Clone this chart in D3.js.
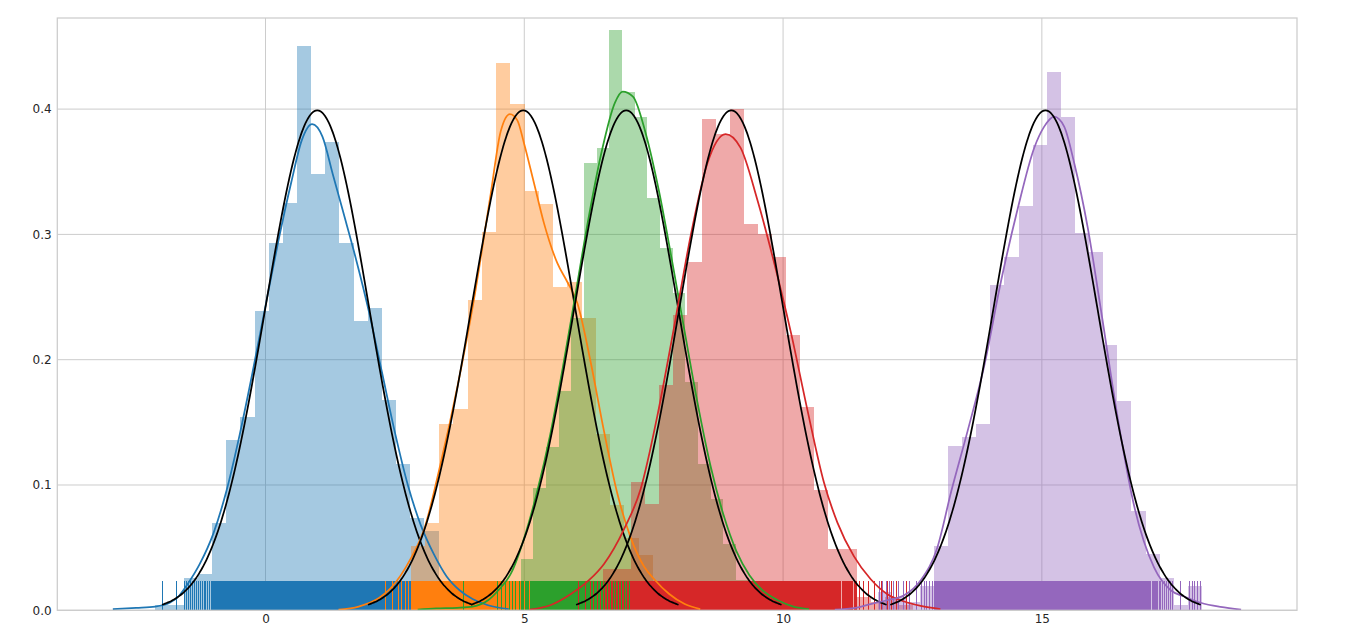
<!DOCTYPE html>
<html><head><meta charset="utf-8">
<script src="https://cdn.jsdelivr.net/npm/d3@7"></script>
<style>
body{margin:0;background:#fff}
svg text{font-family:"DejaVu Sans",sans-serif}
</style>
</head><body>
<svg id="chart" width="1345" height="636"></svg>
<script>
// ---------------- data ----------------
const seriesNames = ["blue", "orange", "green", "red", "purple"];
const seriesColors = ["#1f77b4", "#ff7f0e", "#2ca02c", "#d62728", "#9467bd"];
const sampleSize = 1000;

// histogram densities (density per bin), first bin edge and bin width
const blueDensity = [0.004,0.004,0.026,0.029,0.070,0.136,0.154,0.239,0.293,0.325,0.450,0.348,0.374,0.293,0.231,0.241,0.168,0.117,0.074,0.063,0.007,0.004];
const orangeDensity = [0.007,0.015,0.051,0.070,0.149,0.161,0.248,0.302,0.437,0.404,0.335,0.324,0.258,0.262,0.233,0.141,0.084,0.058,0.044,0.015,0.007];
const greenDensity = [0.004,0,0,0.012,0.016,0.041,0.098,0.130,0.175,0.233,0.357,0.369,0.463,0.414,0.394,0.329,0.289,0.253,0.182,0.117,0.089,0.053,0.024,0.008];
const redDensity = [0.007,0.015,0.033,0.033,0.102,0.085,0.180,0.236,0.278,0.392,0.380,0.400,0.308,0.300,0.282,0.220,0.162,0.096,0.049,0.049,0.011,0.007,0.011,0.004];
const purpleDensity = [0.015,0.011,0.007,0.019,0.051,0.131,0.138,0.149,0.260,0.282,0.323,0.371,0.430,0.394,0.301,0.286,0.212,0.167,0.079,0.045,0.026,0.004,0.019];
const binStarts = [-2.126, 2.254, 3.706, 5.971, 11.825];
const binWidths = [0.2735, 0.2753, 0.2449, 0.2726, 0.2726];

// kernel density estimates: [x, density]
const blueKde = [[-2.95,0.001],[-2.5,0.002],[-2.13,0.003],[-1.85,0.006],[-1.68,0.011],[-1.52,0.020],[-1.27,0.037],[-1.01,0.061],[-0.75,0.096],[-0.5,0.14],[-0.25,0.19],[0.0,0.243],[0.25,0.295],[0.5,0.342],[0.7,0.375],[0.9,0.388],[1.1,0.378],[1.3,0.348],[1.5,0.318],[1.75,0.28],[2.0,0.238],[2.25,0.19],[2.5,0.142],[2.75,0.1],[3.0,0.068],[3.25,0.045],[3.5,0.027],[3.75,0.016],[4.0,0.009],[4.3,0.004],[4.7,0.001]];
const orangeKde = [[1.41,0.0005],[1.8,0.003],[2.2,0.01],[2.416,0.0175],[2.803,0.041],[3.06,0.064],[3.383,0.117],[3.706,0.178],[4.027,0.248],[4.35,0.332],[4.543,0.382],[4.723,0.396],[4.866,0.391],[4.993,0.373],[5.187,0.341],[5.38,0.309],[5.639,0.277],[5.832,0.262],[6.026,0.245],[6.283,0.198],[6.54,0.143],[6.799,0.093],[7.056,0.058],[7.313,0.035],[7.506,0.025],[7.8,0.013],[8.1,0.005],[8.4,0.001]];
const greenKde = [[2.94,0.0005],[3.3,0.0015],[3.7,0.002],[4.0,0.003],[4.3,0.008],[4.5,0.016],[4.75,0.03],[5.0,0.058],[5.25,0.095],[5.5,0.14],[5.75,0.195],[6.0,0.255],[6.25,0.315],[6.5,0.367],[6.75,0.405],[6.9,0.414],[7.1,0.41],[7.35,0.38],[7.6,0.335],[7.85,0.28],[8.1,0.222],[8.35,0.165],[8.6,0.115],[8.85,0.076],[9.1,0.047],[9.35,0.028],[9.6,0.016],[9.9,0.008],[10.2,0.003],[10.5,0.001]];
const redKde = [[5.1,0.0005],[5.5,0.004],[5.9,0.013],[6.25,0.024],[6.54,0.037],[6.93,0.065],[7.25,0.097],[7.57,0.155],[7.89,0.225],[8.22,0.300],[8.54,0.357],[8.89,0.380],[9.18,0.369],[9.5,0.328],[9.83,0.277],[10.15,0.222],[10.47,0.16],[10.79,0.102],[11.05,0.07],[11.37,0.043],[11.69,0.025],[12.01,0.013],[12.34,0.007],[12.66,0.0035],[13.04,0.001]];
const purpleKde = [[11.0,0.0005],[11.4,0.002],[11.69,0.005],[12.01,0.008],[12.34,0.012],[12.66,0.024],[12.98,0.05],[13.25,0.095],[13.565,0.143],[13.886,0.195],[14.208,0.262],[14.531,0.32],[14.852,0.369],[15.045,0.386],[15.239,0.394],[15.432,0.386],[15.625,0.357],[15.884,0.306],[16.141,0.24],[16.464,0.154],[16.785,0.083],[17.17,0.034],[17.49,0.016],[17.75,0.011],[18.07,0.006],[18.45,0.0027],[18.85,0.0006]];

// fitted normal curves (black): mean, standard deviation, drawn over mean +/- 3 sd
const fitMeans = [1.0, 4.98, 6.97, 9.0, 15.07];
const fitStds = [1, 1, 1, 1, 1];
const fitSpanSd = 3;

// axis ticks
const xTicks = [0, 5, 10, 15];
const yTicks = [0.0, 0.1, 0.2, 0.3, 0.4];
const xDomain = [-4.023, 19.93];
const yDomain = [0, 0.4727];

// ---------------- drawing ----------------
const densities = [blueDensity, orangeDensity, greenDensity, redDensity, purpleDensity];
const kdes = [blueKde, orangeKde, greenKde, redKde, purpleKde];

const plot = {left: 57.3, right: 1297, top: 18, bottom: 610.3};
const svg = d3.select("#chart");
svg.append("rect").attr("width", 1345).attr("height", 636).attr("fill", "#fff");

const x = d3.scaleLinear().domain(xDomain).range([plot.left, plot.right]);
const y = d3.scaleLinear().domain(yDomain).range([plot.bottom, plot.top]);

// grid
const grid = svg.append("g");
grid.selectAll("line.gx").data(xTicks).join("line")
  .attr("x1", d => x(d)).attr("x2", d => x(d))
  .attr("y1", plot.top).attr("y2", plot.bottom)
  .attr("stroke", "#cccccc").attr("stroke-width", 1);
grid.selectAll("line.gy").data(yTicks).join("line")
  .attr("x1", plot.left).attr("x2", plot.right)
  .attr("y1", d => y(d)).attr("y2", d => y(d))
  .attr("stroke", "#cccccc").attr("stroke-width", 1);

// bars (all series first)
const bars = svg.append("g").attr("shape-rendering", "crispEdges");
densities.forEach((dens, s) => {
  const st = binStarts[s], w = binWidths[s];
  bars.append("g").selectAll("rect").data(dens.map((d, i) => ({d, i}))).join("rect")
    .attr("x", o => x(st + o.i * w))
    .attr("width", o => x(st + (o.i + 1) * w) - x(st + o.i * w))
    .attr("y", o => y(o.d))
    .attr("height", o => y(0) - y(o.d))
    .attr("fill", seriesColors[s]).attr("fill-opacity", 0.4);
});

// rugs: one tick per observation, counts taken from the histogram bins
const rugTop = plot.bottom - 0.05 * (plot.bottom - plot.top);
const rugs = svg.append("g").attr("shape-rendering", "crispEdges");
densities.forEach((dens, s) => {
  const st = binStarts[s], w = binWidths[s];
  const pos = [];
  dens.forEach((d, i) => {
    const n = Math.round(d * sampleSize * w);
    for (let j = 0; j < n; j++) pos.push(st + w * (i + (j + 0.5) / n));
  });
  rugs.append("g").selectAll("line").data(pos).join("line")
    .attr("x1", d => x(d)).attr("x2", d => x(d))
    .attr("y1", plot.bottom).attr("y2", rugTop)
    .attr("stroke", seriesColors[s]).attr("stroke-width", 1);
});

// kde + fit lines
const line = d3.line().x(d => x(d[0])).y(d => y(d[1])).curve(d3.curveMonotoneX);
const lines = svg.append("g").attr("fill", "none");
kdes.forEach((k, s) => {
  lines.append("path").attr("d", line(k))
    .attr("stroke", seriesColors[s]).attr("stroke-width", 1.75);
  const mu = fitMeans[s], sd = fitStds[s];
  const pts = d3.range(0, 201).map(i => {
    const xv = mu - fitSpanSd * sd + i * (2 * fitSpanSd * sd) / 200;
    return [xv, Math.exp(-0.5 * ((xv - mu) / sd) ** 2) / (sd * Math.sqrt(2 * Math.PI))];
  });
  lines.append("path").attr("d", line(pts))
    .attr("stroke", "#000").attr("stroke-width", 1.75);
});

// frame
svg.append("rect")
  .attr("x", plot.left).attr("y", plot.top)
  .attr("width", plot.right - plot.left).attr("height", plot.bottom - plot.top)
  .attr("fill", "none").attr("stroke", "#cccccc").attr("stroke-width", 1.25);

// axes (labels only)
const xAxis = svg.append("g").attr("transform", `translate(0,${plot.bottom})`)
  .call(d3.axisBottom(x).tickValues(xTicks).tickFormat(d3.format("d")).tickSize(0).tickPadding(4.5));
const yAxis = svg.append("g").attr("transform", `translate(${plot.left},0)`)
  .call(d3.axisLeft(y).tickValues(yTicks).tickFormat(d3.format(".1f")).tickSize(0).tickPadding(5.6));
[xAxis, yAxis].forEach(a => {
  a.select(".domain").remove();
  a.selectAll("text").attr("font-size", 12).attr("fill", "#262626")
    .attr("font-family", "DejaVu Sans, sans-serif");
});
</script>
</body></html>
